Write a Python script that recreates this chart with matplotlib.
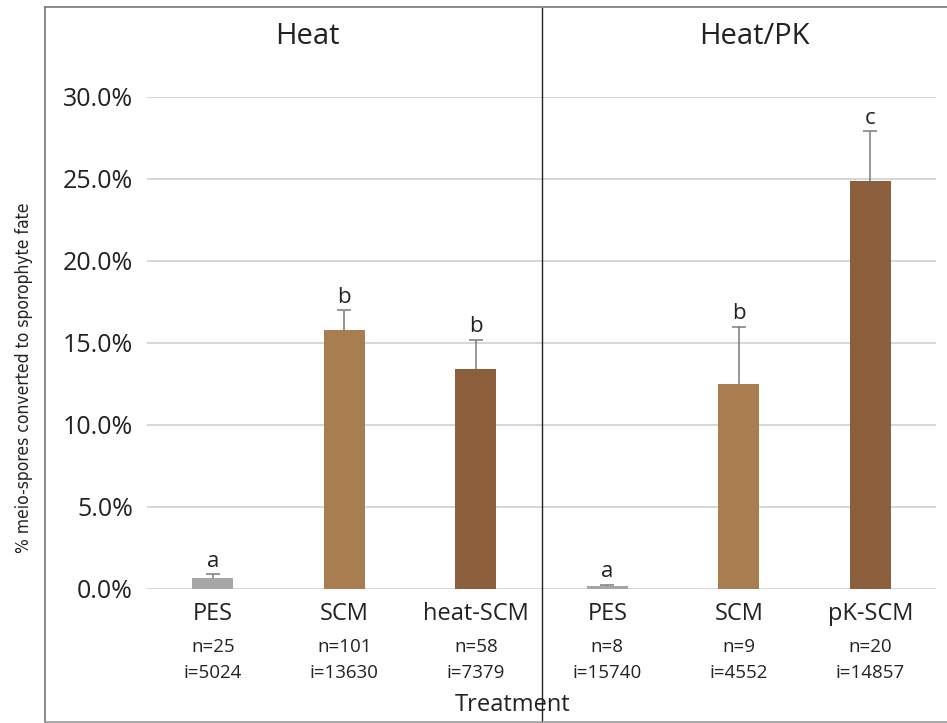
import matplotlib
matplotlib.use('Agg')
from matplotlib import pyplot as plt
from matplotlib.lines import Line2D
from matplotlib.ticker import PercentFormatter

plt.rcParams['font.family'] = ['Open Sans', 'DejaVu Sans']

# data
labels = ['PES', 'SCM', 'heat-SCM', 'PES', 'SCM', 'pK-SCM']
n_counts = ['n=25', 'n=101', 'n=58', 'n=8', 'n=9', 'n=20']
i_counts = ['i=5024', 'i=13630', 'i=7379', 'i=15740', 'i=4552', 'i=14857']
values = [0.7, 15.8, 13.4, 0.2, 12.5, 24.9]
err_up = [0.2, 1.2, 1.8, 0.05, 3.5, 3.0]
letters = ['a', 'b', 'b', 'a', 'b', 'c']
panels = ['Heat', 'Heat/PK']
colors = ['#A6A6A6', '#A87D50', '#8B5E3C', '#A6A6A6', '#A87D50', '#8B5E3C']

W, H = 947, 723
fig = plt.figure(figsize=(9.47, 7.23), dpi=100)
ax = fig.add_axes([147 / W, (H - 589) / H, (936 - 147) / W, (589 - 97) / H])

x = list(range(len(values)))
ax.bar(x, values, width=0.31, color=colors, zorder=3)
# symmetric bars drawn behind the columns so only the upper half shows
ax.errorbar(x, values, yerr=err_up, fmt='none',
            ecolor='#7a7a7a', elinewidth=1.1, capsize=5, capthick=1.1, zorder=2)

for xi, v, e, let in zip(x, values, err_up, letters):
    ax.text(xi, v + e + 0.15, let, ha='center', va='bottom', fontsize=16, color='#222222')

ax.set_xlim(-0.5, 5.5)
ax.set_ylim(0, 30)
ax.set_yticks([0, 5, 10, 15, 20, 25, 30])
ax.yaxis.set_major_formatter(PercentFormatter(decimals=1))
ax.tick_params(axis='y', length=0, labelsize=18, pad=10, colors='#222222')
ax.set_xticks([])
ax.grid(axis='y', color='#d0d0d0', linewidth=1.2, zorder=0)
for s in ax.spines.values():
    s.set_visible(False)

tr = ax.get_xaxis_transform()
for xi, lab, nc, ic in zip(x, labels, n_counts, i_counts):
    ax.text(xi, -0.051, lab, transform=tr, ha='center', va='center', fontsize=17, color='#222222')
    ax.text(xi, -0.118, nc, transform=tr, ha='center', va='center', fontsize=13.5, color='#222222')
    ax.text(xi, -0.171, ic, transform=tr, ha='center', va='center', fontsize=13.5, color='#222222')

ax.text(2.28, -0.236, 'Treatment', transform=tr, ha='center', va='center', fontsize=17, color='#222222')
ax.text(0.72, 1.122, panels[0], transform=tr, ha='center', va='center', fontsize=21, color='#222222')
ax.text(4.12, 1.122, panels[1], transform=tr, ha='center', va='center', fontsize=21, color='#222222')

# panel divider
ax.axvline(2.5, ymin=(589 - 723) / 492, ymax=(589 - 8) / 492, color='#222222',
           linewidth=1.0, clip_on=False, zorder=5)

# outer frame
fig.add_artist(Line2D([45 / W, 45 / W], [1 / H, 1 - 7 / H], color='#777777', linewidth=1.2))
fig.add_artist(Line2D([45 / W, 1], [1 - 7 / H, 1 - 7 / H], color='#777777', linewidth=1.2))
fig.add_artist(Line2D([45 / W, 1], [1 / H, 1 / H], color='#999999', linewidth=1.2))

fig.text(24 / W, 1 - 378 / H, '% meio-spores converted to sporophyte fate', rotation=90,
         ha='center', va='center', fontsize=12.5, color='#222222',
         family='DejaVu Sans', fontstretch='condensed')

fig.savefig('out.png', dpi=100)
